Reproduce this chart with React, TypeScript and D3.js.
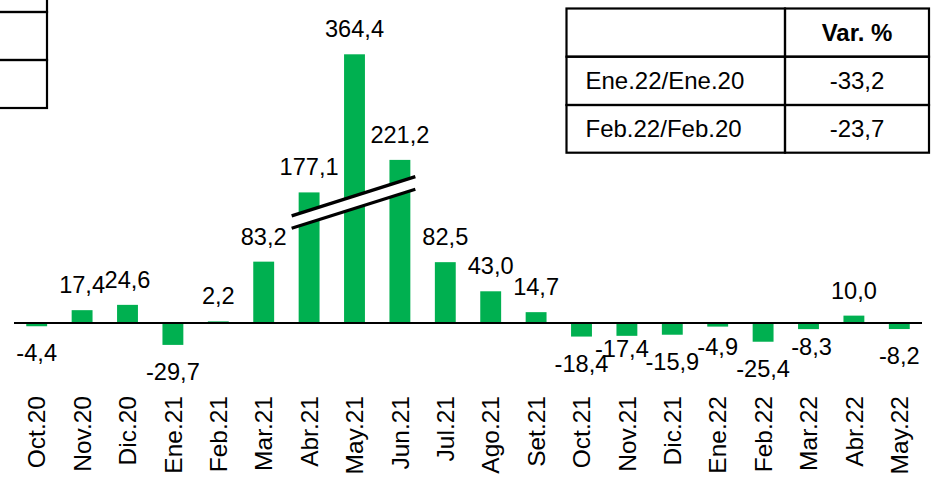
import React, { useRef, useEffect } from "react";
import * as d3 from "d3";

const months = [
  "Oct.20", "Nov.20", "Dic.20", "Ene.21", "Feb.21", "Mar.21", "Abr.21",
  "May.21", "Jun.21", "Jul.21", "Ago.21", "Set.21", "Oct.21", "Nov.21",
  "Dic.21", "Ene.22", "Feb.22", "Mar.22", "Abr.22", "May.22",
];
const values = [
  -4.4, 17.4, 24.6, -29.7, 2.2, 83.2, 177.1, 364.4, 221.2, 82.5, 43.0, 14.7,
  -18.4, -17.4, -15.9, -4.9, -25.4, -8.3, 10.0, -8.2,
];
// hand nudges of the value labels, as in the original [dx, dy]
const labelNudge: [number, number][] = [
  [0, 0], [0, 0], [0, 0], [0, 0], [0, 0], [0, 0], [0, 0], [0, 0], [0, 0],
  [0, 0], [0, 0], [0, 0], [0, 0], [-5, -14], [0, 0], [0, -7], [0, 0],
  [3, -9], [0, 0], [0, 0],
];
const tableRows = [
  ["Ene.22/Ene.20", "-33,2"],
  ["Feb.22/Feb.20", "-23,7"],
];
const tableHeader = ["", "Var. %"];

const W = 944;
const H = 484;
const FONT = "'Liberation Sans', Arial, sans-serif";
const GREEN = "#00B050";

function App() {
  const svgRef = useRef<SVGSVGElement>(null);

  useEffect(() => {
    const svg = d3.select(svgRef.current);
    svg.selectAll("*").remove();

    const x = d3
      .scaleBand<string>()
      .domain(months)
      .range([14, 922])
      .paddingInner(0.54)
      .paddingOuter(0.27);
    const y = d3.scaleLinear().domain([0, 364.4]).range([323, 54.3]);
    const fmt = (v: number) => v.toFixed(1).replace(".", ",");

    const data = months.map((m, i) => ({ m, v: values[i], n: labelNudge[i] }));

    svg
      .selectAll(".bar")
      .data(data)
      .join("rect")
      .attr("class", "bar")
      .attr("x", (d) => x(d.m)!)
      .attr("width", x.bandwidth())
      .attr("y", (d) => y(Math.max(0, d.v)))
      .attr("height", (d) => Math.abs(y(d.v) - y(0)))
      .attr("fill", GREEN);

    // zero line
    svg
      .append("line")
      .attr("x1", 14)
      .attr("x2", 922)
      .attr("y1", y(0))
      .attr("y2", y(0))
      .attr("stroke", "#000")
      .attr("stroke-width", 2);

    // axis break marker
    const bx0 = x("Abr.21")! - 7;
    const bx1 = x("Jun.21")! + x.bandwidth() + 5;
    const up: [number, number][] = [[bx0, y(145.2)], [bx1, y(198.5)]];
    const lo: [number, number][] = [[bx0, y(128.5)], [bx1, y(181.4)]];
    svg
      .append("polygon")
      .attr("points", [up[0], up[1], lo[1], lo[0]].map((p) => p.join(",")).join(" "))
      .attr("fill", "#fff");
    [up, lo].forEach((l) =>
      svg
        .append("line")
        .attr("x1", l[0][0])
        .attr("y1", l[0][1])
        .attr("x2", l[1][0])
        .attr("y2", l[1][1])
        .attr("stroke", "#000")
        .attr("stroke-width", 3.3)
    );

    // value labels
    svg
      .selectAll(".label")
      .data(data)
      .join("text")
      .attr("class", "label")
      .attr("x", (d) => x(d.m)! + x.bandwidth() / 2 + d.n[0])
      .attr("y", (d) => (d.v >= 0 ? y(d.v) - 17 : y(d.v) + 35) + d.n[1])
      .attr("text-anchor", "middle")
      .attr("font-family", FONT)
      .attr("font-size", 23.6)
      .attr("fill", "#000")
      .text((d) => fmt(d.v));

    // category labels
    svg
      .selectAll(".cat")
      .data(months)
      .join("text")
      .attr("class", "cat")
      .attr(
        "transform",
        (m) => `translate(${x(m)! + x.bandwidth() / 2 + 8.7},396) rotate(-90)`
      )
      .attr("text-anchor", "end")
      .attr("font-family", FONT)
      .attr("font-size", 24.5)
      .attr("fill", "#000")
      .text((m) => m);

    // left partial table
    const lt = svg.append("g");
    [-36, 12, 60].forEach((ty) =>
      lt
        .append("rect")
        .attr("x", -10)
        .attr("y", ty)
        .attr("width", 57)
        .attr("height", 48)
        .attr("fill", "none")
        .attr("stroke", "#000")
        .attr("stroke-width", 2.2)
    );

    // right table
    const tx0 = 566.5;
    const tx1 = 785;
    const tx2 = 929;
    const rowY = [8.5, 56.7, 105, 152.7];
    const rows = [tableHeader, ...tableRows];
    const tg = svg.append("g");
    rows.forEach((r, i) => {
      const ya = rowY[i];
      const yb = rowY[i + 1];
      [[tx0, tx1], [tx1, tx2]].forEach(([a, b]) =>
        tg
          .append("rect")
          .attr("x", a)
          .attr("y", ya)
          .attr("width", b - a)
          .attr("height", yb - ya)
          .attr("fill", "none")
          .attr("stroke", "#000")
          .attr("stroke-width", 2.2)
      );
      const cy = (ya + yb) / 2 + 8.5;
      tg.append("text")
        .attr("x", tx0 + 19)
        .attr("y", cy)
        .attr("font-family", FONT)
        .attr("font-size", 24)
        .text(r[0]);
      tg.append("text")
        .attr("x", (tx1 + tx2) / 2)
        .attr("y", cy)
        .attr("text-anchor", "middle")
        .attr("font-family", FONT)
        .attr("font-size", 24)
        .attr("font-weight", i === 0 ? "bold" : "normal")
        .text(r[1]);
    });
  }, []);

  return (
    <svg
      ref={svgRef}
      width={W}
      height={H}
      style={{ position: "absolute", left: 0, top: 0, background: "#fff" }}
    />
  );
}

export default App;
